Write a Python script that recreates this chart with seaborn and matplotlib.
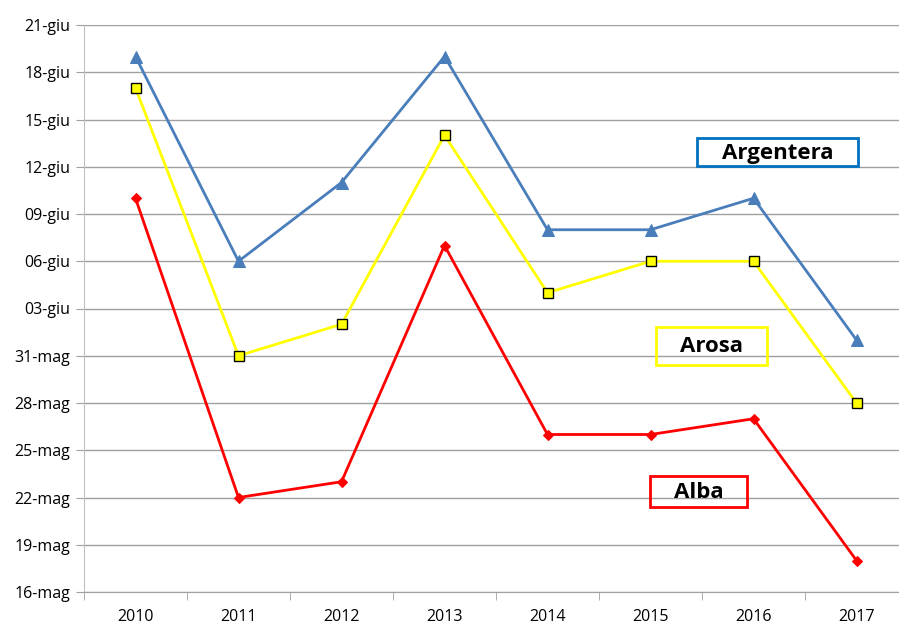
import pandas as pd
import matplotlib.pyplot as plt
import matplotlib.dates as mdates
from matplotlib.patches import Rectangle
import seaborn as sns

# data: flowering date per site and year (day-month)
years = ['2010', '2011', '2012', '2013', '2014', '2015', '2016', '2017']
argentera = ['19-06', '06-06', '11-06', '19-06', '08-06', '08-06', '10-06', '01-06']
arosa = ['17-06', '31-05', '02-06', '14-06', '04-06', '06-06', '06-06', '28-05']
alba = ['10-06', '22-05', '23-05', '07-06', '26-05', '26-05', '27-05', '18-05']
mesi = {5: 'mag', 6: 'giu'}

def to_dates(vals):
    return pd.to_datetime([v + '-2000' for v in vals], format='%d-%m-%Y')

df = pd.DataFrame({'Anno': years,
                   'Argentera': to_dates(argentera),
                   'Arosa': to_dates(arosa),
                   'Alba': to_dates(alba)})

sns.set_style('white')
plt.rcParams['font.family'] = ['Open Sans', 'DejaVu Sans']
plt.rcParams['text.color'] = 'black'
plt.rcParams['xtick.labelcolor'] = 'black'
plt.rcParams['ytick.labelcolor'] = 'black'

fig = plt.figure(figsize=(8.99, 6.26), dpi=100)
ax = fig.add_axes([84 / 899, 34 / 626, 824 / 899, 567 / 626])

sns.lineplot(data=df, x='Anno', y='Argentera', ax=ax, color='#4a7ebb', linewidth=2,
             marker='^', markersize=8, markeredgecolor='#4a7ebb')
sns.lineplot(data=df, x='Anno', y='Arosa', ax=ax, color='#ffff00', linewidth=2,
             marker='s', markersize=7, markerfacecolor='#ffff00', markeredgecolor='black',
             markeredgewidth=1)
sns.lineplot(data=df, x='Anno', y='Alba', ax=ax, color='#ff0000', linewidth=2,
             marker='D', markersize=5, markeredgecolor='#ff0000')

# y axis: every 3 days from 16-mag to 21-giu
start = pd.Timestamp('2000-05-16')
yticks = pd.date_range(start, pd.Timestamp('2000-06-21'), freq='3D')
ax.set_ylim(mdates.date2num(yticks[0]), mdates.date2num(yticks[-1]))
ax.set_yticks(mdates.date2num(yticks))
ax.yaxis.set_major_formatter(plt.FuncFormatter(
    lambda v, p: '%02d-%s' % (mdates.num2date(v).day, mesi[mdates.num2date(v).month])))

ax.set_xlim(-0.5, 7.5)
ax.set_xticks(range(8))
ax.set_xticklabels(years)
ax.set_xticks([i + 0.5 for i in range(-1, 8)], minor=True)
ax.tick_params(axis='x', which='major', length=0, pad=12, labelsize=11.5)
ax.tick_params(axis='x', which='minor', length=6, color='#a0a0a0', direction='out')
ax.tick_params(axis='y', length=6, color='#a0a0a0', direction='out', labelsize=11.5, pad=4)
ax.xaxis.set_tick_params(bottom=True, which='both')
ax.yaxis.set_tick_params(left=True)

ax.grid(axis='y', color='#a0a0a0', linewidth=1)
ax.grid(axis='x', visible=False)
ax.set_xlabel('')
ax.set_ylabel('')
for s in ['top', 'right']:
    ax.spines[s].set_visible(False)
ax.spines['left'].set_color('#c0c0c0')
ax.spines['bottom'].set_color('#a0a0a0')

# label boxes (pixel positions: x0, y0 from top, w, h)
boxes = [('Argentera', '#0070c0', 697, 138, 161, 28),
         ('Arosa', '#ffff00', 656, 327, 111, 38),
         ('Alba', '#ff0000', 650, 476, 97, 31)]
for name, col, x0, y0, w, h in boxes:
    fig.add_artist(Rectangle((x0 / 899, 1 - (y0 + h) / 626), w / 899, h / 626,
                             transform=fig.transFigure, fill=False, edgecolor=col,
                             linewidth=2))
    fig.text((x0 + w / 2) / 899, 1 - (y0 + h / 2 + 1) / 626, name, ha='center',
             va='center', fontsize=16, fontweight='bold', color='black')

plt.savefig('out.png', dpi=100)
